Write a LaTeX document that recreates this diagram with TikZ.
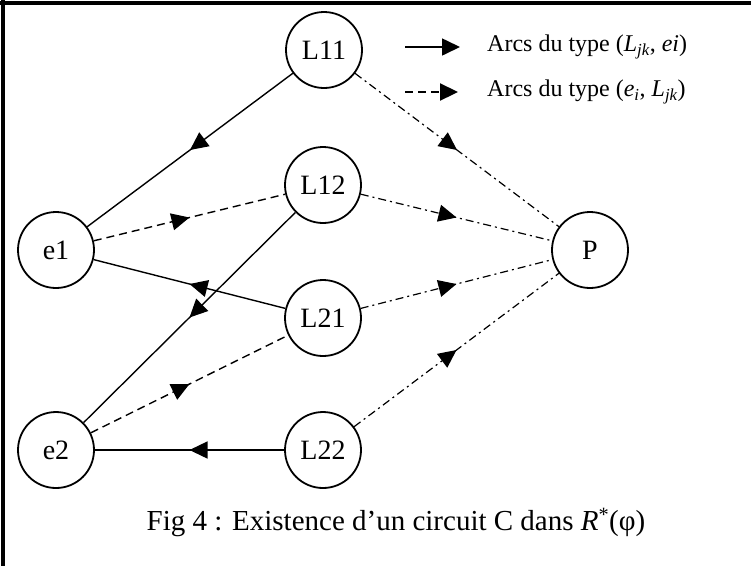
\documentclass[tikz,border=0pt]{standalone}
\usepackage{fontspec}
\setmainfont{Liberation Serif}
\usetikzlibrary{arrows.meta,decorations.markings}
\begin{document}
\begin{tikzpicture}[x=1pt,y=-1pt,
  vnode/.style={circle,draw,line width=1.8pt,minimum size=76pt,inner sep=0pt,font=\fontsize{28}{30}\selectfont},
  midarrow/.style={postaction={decorate},decoration={markings,mark=at position 0.5 with {\arrow{Triangle[length=18pt,width=17pt]}}}},
  solidarc/.style={line width=1.4pt,midarrow},
  dasharc/.style={line width=1.4pt,dash pattern=on 8pt off 5pt,midarrow},
  dotarc/.style={line width=1.2pt,dash pattern=on 8pt off 4pt on 2pt off 4pt,midarrow},
  legtext/.style={anchor=west,inner sep=0pt,font=\fontsize{24}{26}\selectfont}
]
\useasboundingbox (0,0) rectangle (751,566);
\draw[line width=4pt] (0,3) -- (751,3);
\draw[line width=4pt] (3,0) -- (3,566);

\node[vnode] (L11) at (324,50) {L11};
\node[vnode] (L12) at (323,185) {L12};
\node[vnode] (L21) at (323,318) {L21};
\node[vnode] (L22) at (323,450) {L22};
\node[vnode] (e1) at (56,250) {e1};
\node[vnode] (e2) at (56,450) {e2};
\node[vnode] (P) at (590,250) {P};

\draw[solidarc] (L11) -- (e1);
\draw[solidarc] (L21) -- (e1);
\draw[solidarc] (L12) -- (e2);
\draw[solidarc] (L22) -- (e2);
\draw[dasharc] (e1) -- (L12);
\draw[dasharc] (e2) -- (L21);
\draw[dotarc] (L11) -- (P);
\draw[dotarc] (L12) -- (P);
\draw[dotarc] (L21) -- (P);
\draw[dotarc] (L22) -- (P);

\coordinate (a1) at (405,47);
\coordinate (a2) at (460,47);
\coordinate (b1) at (405,92);
\coordinate (b2) at (458,92);
\draw[line width=1.6pt,-{Triangle[length=18pt,width=17pt]}] (a1) -- (a2);
\draw[line width=2.2pt,dash pattern=on 8pt off 5pt,-{Triangle[length=18pt,width=17pt]}] (b1) -- (b2);
\node[legtext] (t1) at (487,47) {Arcs du type (\textit{L\textsubscript{jk}}, \textit{ei})};
\node[legtext] (t2) at (487,92) {Arcs du type (\textit{e\textsubscript{i}}, \textit{L\textsubscript{jk}})};

\node[font=\fontsize{29}{31}\selectfont] (cap) at (396,522) {Fig 4 : Existence d’un circuit C dans \textit{R}\textsuperscript{*}(φ)};
\end{tikzpicture}
\end{document}
